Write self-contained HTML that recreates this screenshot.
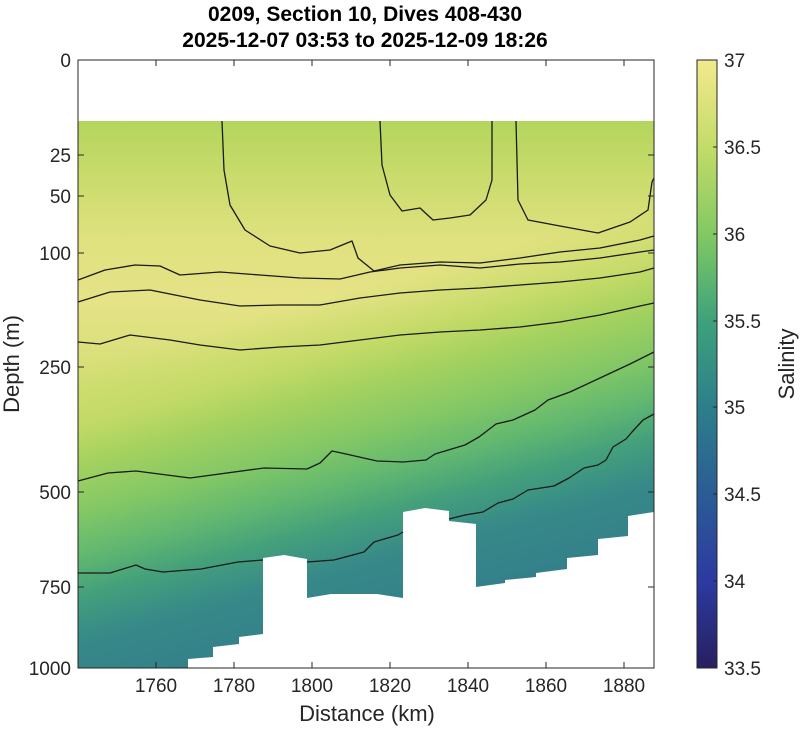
<!DOCTYPE html>
<html><head><meta charset="utf-8"><style>
html,body{margin:0;padding:0;background:#fff;overflow:hidden;width:800px;height:729px;}
svg{display:block;}
svg text{font-family:"Liberation Sans",Arial,sans-serif;}
</style></head><body>
<svg width="800" height="729" viewBox="0 0 800 729" xmlns="http://www.w3.org/2000/svg">
<defs>
<linearGradient id="up" gradientUnits="userSpaceOnUse" x1="0" y1="121" x2="0" y2="668">
<stop offset="0" stop-color="#b3d55d"/>
<stop offset="0.11" stop-color="#cbdc6d"/>
<stop offset="0.22" stop-color="#e0e17f"/>
<stop offset="0.33" stop-color="#e5e386"/>
<stop offset="0.42" stop-color="#dbe07c"/>
<stop offset="0.55" stop-color="#c9dc6a"/>
<stop offset="1" stop-color="#c9dc6a"/>
</linearGradient>
<linearGradient id="lo" gradientUnits="userSpaceOnUse" x1="0" y1="365" x2="0" y2="700" gradientTransform="translate(78,0) skewY(-15.4)">
<stop offset="0" stop-color="#c9dc6a" stop-opacity="0"/>
<stop offset="0.18" stop-color="#c3da67" stop-opacity="1"/>
<stop offset="0.29" stop-color="#a6d25f"/>
<stop offset="0.44" stop-color="#84c865"/>
<stop offset="0.57" stop-color="#62b870"/>
<stop offset="0.69" stop-color="#44a07b"/>
<stop offset="0.82" stop-color="#378a88"/>
<stop offset="1" stop-color="#33808a"/>
</linearGradient>
<linearGradient id="cb" x1="0" y1="0" x2="0" y2="1">
<stop offset="0" stop-color="#f3e98e"/>
<stop offset="0.143" stop-color="#c3dc68"/>
<stop offset="0.286" stop-color="#82c963"/>
<stop offset="0.429" stop-color="#3da27b"/>
<stop offset="0.571" stop-color="#2c7f8b"/>
<stop offset="0.714" stop-color="#2b5c95"/>
<stop offset="0.857" stop-color="#2c3aa2"/>
<stop offset="1" stop-color="#28205f"/>
</linearGradient>
</defs>
<text x="365" y="21" font-size="21" font-weight="bold" text-anchor="middle">0209, Section 10, Dives 408-430</text>
<text x="365" y="47" font-size="21" font-weight="bold" text-anchor="middle">2025-12-07 03:53 to 2025-12-09 18:26</text>

<rect x="78" y="121" width="576" height="547" fill="url(#up)"/>
<rect x="78" y="121" width="576" height="547" fill="url(#lo)"/>
<polygon fill="#fff" points="78,668 188,668 188,659 213,657 213,647 239,644 239,637 263,634 263,558 284,555 307,559 307,598 331,594 377,594 403,598 403,512 425,508 449,511 449,521 476,524 476,587 505,583 505,580 536,577 536,573 567,569 567,558 598,555 598,539 628,536 628,516 654,512 654,668"/>

<g fill="none" stroke="#1a1a1a" stroke-width="1.3" stroke-linejoin="round">
<polyline points="222,121 224,170 230,205 245,230 270,246 300,253 330,250 352,241 358,258 374,271 400,265 440,262 480,263 520,258 560,252 600,248 640,240 654,236"/>
<polyline points="380,121 382,165 390,195 402,211 420,208 433,220 450,218 470,215 486,200 492,180 492,121"/>
<polyline points="516,121 518,200 528,220 560,226 598,233 630,222 648,210 652,182 654,178"/>
<polyline points="78,280 105,270 135,265 160,266 180,275 220,272 260,275 300,278 340,279 370,272 400,268 440,265 480,268 520,264 560,262 600,258 640,252 654,250"/>
<polyline points="78,302 110,292 150,290 200,300 240,306 280,305 320,305 360,298 400,293 440,290 480,288 520,285 560,282 600,278 640,272 654,268"/>
<polyline points="78,342 100,344 130,335 170,340 200,345 240,350 280,347 320,345 360,340 400,335 440,332 480,330 520,327 560,322 600,315 640,306 654,303"/>
<polyline points="78,481 108,473 136,471 190,478 264,468 307,469 320,463 332,451 346,454 377,461 403,462 426,460 435,454 465,445 479,437 496,424 513,420 535,410 548,400 570,392 600,378 630,364 654,352"/>
<polyline points="78,573 110,573 136,565 145,569 163,572 201,569 238,562 263,560"/>
<polyline points="307,562 334,560 364,552 374,542 398,535 403,532"/>
<polyline points="449,519 465,515 483,512 498,503 513,499 528,490 554,486 569,478 584,468 598,465 606,460 613,447 626,439 632,432 643,420 654,414"/>
</g>

<rect x="78" y="60" width="576" height="608" fill="none" stroke="#262626" stroke-width="1"/>
<g stroke="#262626" stroke-width="1">
<line x1="78" y1="155" x2="84" y2="155"/><line x1="654" y1="155" x2="648" y2="155"/>
<line x1="78" y1="196" x2="84" y2="196"/><line x1="654" y1="196" x2="648" y2="196"/>
<line x1="78" y1="253" x2="84" y2="253"/><line x1="654" y1="253" x2="648" y2="253"/>
<line x1="78" y1="367" x2="84" y2="367"/><line x1="654" y1="367" x2="648" y2="367"/>
<line x1="78" y1="492" x2="84" y2="492"/><line x1="654" y1="492" x2="648" y2="492"/>
<line x1="78" y1="587" x2="84" y2="587"/><line x1="654" y1="587" x2="648" y2="587"/>
<line x1="156" y1="668" x2="156" y2="662"/><line x1="234" y1="668" x2="234" y2="662"/>
<line x1="312" y1="668" x2="312" y2="662"/><line x1="390" y1="668" x2="390" y2="662"/>
<line x1="468" y1="668" x2="468" y2="662"/><line x1="546" y1="668" x2="546" y2="662"/>
<line x1="624" y1="668" x2="624" y2="662"/>
<line x1="156" y1="60" x2="156" y2="66"/><line x1="234" y1="60" x2="234" y2="66"/>
<line x1="312" y1="60" x2="312" y2="66"/><line x1="390" y1="60" x2="390" y2="66"/>
<line x1="468" y1="60" x2="468" y2="66"/><line x1="546" y1="60" x2="546" y2="66"/>
<line x1="624" y1="60" x2="624" y2="66"/>
</g>
<g font-size="19" fill="#262626" text-anchor="end">
<text x="71" y="67">0</text><text x="71" y="162">25</text><text x="71" y="203">50</text>
<text x="71" y="260">100</text><text x="71" y="374">250</text><text x="71" y="499">500</text>
<text x="71" y="594">750</text><text x="71" y="675">1000</text>
</g>
<g font-size="19" fill="#262626" text-anchor="middle">
<text x="156" y="692">1760</text><text x="234" y="692">1780</text><text x="312" y="692">1800</text>
<text x="390" y="692">1820</text><text x="468" y="692">1840</text><text x="546" y="692">1860</text>
<text x="624" y="692">1880</text>
</g>
<text x="367" y="721" font-size="22" fill="#262626" text-anchor="middle">Distance (km)</text>
<text transform="translate(19,364) rotate(-90)" font-size="22" fill="#262626" text-anchor="middle">Depth (m)</text>

<rect x="697" y="60" width="20" height="608" fill="url(#cb)" stroke="#262626" stroke-width="1"/>
<g stroke="#262626">
<line x1="717" y1="147" x2="713" y2="147"/><line x1="717" y1="234" x2="713" y2="234"/>
<line x1="717" y1="321" x2="713" y2="321"/><line x1="717" y1="407" x2="713" y2="407"/>
<line x1="717" y1="494" x2="713" y2="494"/><line x1="717" y1="581" x2="713" y2="581"/>
</g>
<g font-size="19" fill="#262626">
<text x="724" y="67">37</text><text x="724" y="154">36.5</text><text x="724" y="241">36</text>
<text x="724" y="328">35.5</text><text x="724" y="414">35</text><text x="724" y="501">34.5</text>
<text x="724" y="588">34</text><text x="724" y="675">33.5</text>
</g>
<text transform="translate(794,364) rotate(-90)" font-size="22" fill="#262626" text-anchor="middle">Salinity</text>
</svg>
</body></html>
